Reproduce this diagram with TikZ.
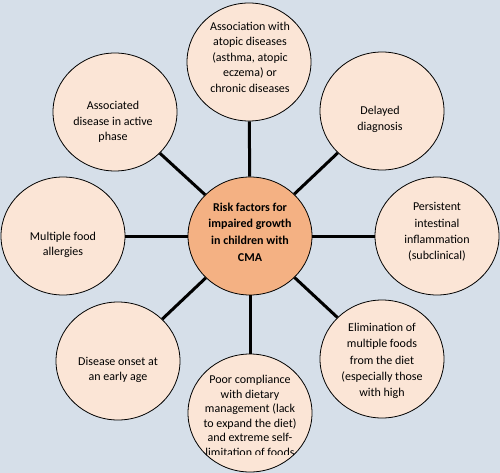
\documentclass[tikz,border=0pt]{standalone}
\usepackage{fontspec}
\setmainfont{Carlito}
\usetikzlibrary{shapes.geometric}
\definecolor{bg}{HTML}{D6DFE9}
\definecolor{peach}{HTML}{FBE5D6}
\definecolor{hubfill}{HTML}{F4B183}
\begin{document}
\begin{tikzpicture}[x=1pt,y=-1pt,
  bubble/.style={ellipse,draw=black,line width=0.8pt,fill=peach,minimum width=124pt,minimum height=118pt,inner sep=0pt},
  hubbubble/.style={bubble,fill=hubfill},
  lbl/.style={align=center,font=\fontsize{12}{15.5}\selectfont,inner sep=0pt},
  hublbl/.style={align=center,font=\bfseries\fontsize{12}{16.7}\selectfont,inner sep=0pt},
  conn/.style={line width=3pt,black}]
\fill[bg] (0,0) rectangle (500,473);
\useasboundingbox (0,0) rectangle (500,473);

\node[hubbubble] (hub) at (250,236) {};
\node[bubble] (n1) at (249,62) {};
\node[bubble] (n2) at (382,111) {};
\node[bubble] (n3) at (437,236) {};
\node[bubble] (n4) at (382,359) {};
\node[bubble] (n5) at (250,413) {};
\node[bubble] (n6) at (118,361) {};
\node[bubble] (n7) at (63,236) {};
\node[bubble] (n8) at (115,112) {};

\foreach \n in {n1,n2,n3,n4,n5,n6,n7,n8}
  \draw[conn] (hub) -- (\n);

\node[hublbl] (thub) at (250,232) {Risk factors for\\impaired growth\\in children with\\CMA};
\node[lbl] (t1) at (250,57) {Association with\\atopic diseases\\(asthma, atopic\\eczema) or\\chronic diseases};
\node[lbl] (t2) at (380,119.5) {Delayed\\diagnosis};
\node[lbl,font=\fontsize{12}{16.3}\selectfont] (t3) at (437,232) {Persistent\\intestinal\\inflammation\\(subclinical)};
\node[lbl,font=\fontsize{12}{16.2}\selectfont] (t4) at (382,361) {Elimination of\\multiple foods\\from the diet\\(especially those\\with high};
\begin{scope}
  \clip (150,330) rectangle (350,454);
  \node[lbl,font=\fontsize{12}{14.5}\selectfont] (t5) at (250,416) {Poor compliance\\with dietary\\management (lack\\to expand the diet)\\and extreme self-\\limitation of foods};
\end{scope}
\node[lbl] (t6) at (118,370) {Disease onset at\\an early age};
\node[lbl] (t7) at (63,245) {Multiple food\\allergies};
\node[lbl] (t8) at (113,122) {Associated\\disease in active\\phase};
\end{tikzpicture}
\end{document}
